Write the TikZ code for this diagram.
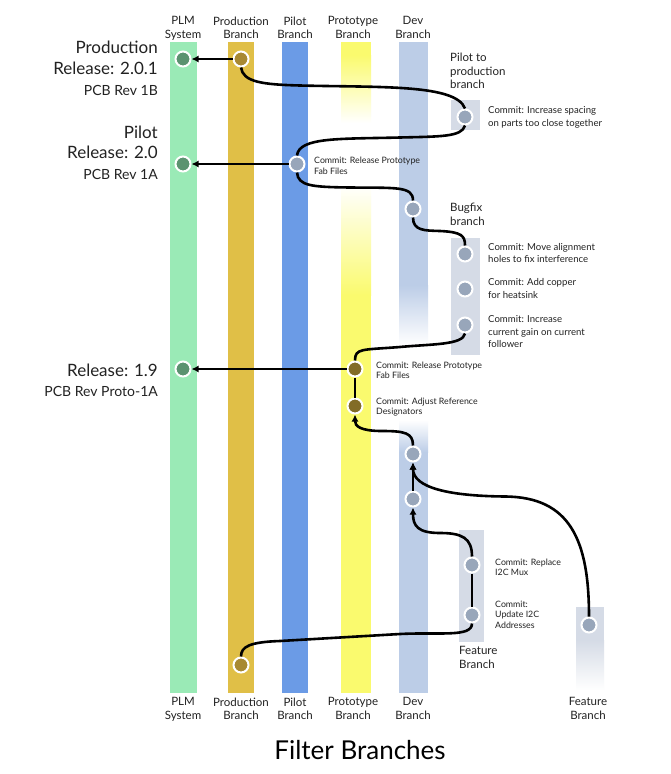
\documentclass[tikz,border=0pt]{standalone}
\usepackage{fontspec}
\setmainfont{Lato}
\usetikzlibrary{arrows.meta}
\definecolor{plmband}{HTML}{9AEAB6}
\definecolor{plmnode}{HTML}{5B9370}
\definecolor{prodband}{HTML}{E0BF47}
\definecolor{prodnode}{HTML}{A88932}
\definecolor{pilotband}{HTML}{6B9BE6}
\definecolor{protoband}{HTML}{FAFA6E}
\definecolor{protonode}{HTML}{826C27}
\definecolor{devband}{HTML}{BCCDE7}
\definecolor{graybox}{HTML}{D5DBE6}
\definecolor{graynode}{HTML}{98A6BA}
\definecolor{txt}{HTML}{222222}
\tikzset{
  conn/.style={line width=2.6pt, black},
  arr/.style={conn, -{Latex[length=7pt,width=7pt]}},
  commit/.style={circle, draw=white, line width=2pt, minimum size=15pt, inner sep=0pt},
  plmc/.style={commit, fill=plmnode},
  prodc/.style={commit, fill=prodnode},
  grayc/.style={commit, fill=graynode},
  protoc/.style={commit, fill=protonode},
  head/.style={font=\fontsize{11.5}{13.8}\selectfont, align=center, text=txt, anchor=north, inner sep=0pt},
  bigl/.style={font=\fontsize{17}{19}\selectfont, anchor=base east, text=txt, inner sep=0pt},
  smalll/.style={font=\fontsize{14}{15}\selectfont, anchor=base east, text=txt, inner sep=0pt},
  note/.style={font=\fontsize{9.6}{12.4}\selectfont, align=left, anchor=north west, text=txt, inner sep=0pt},
  tiny/.style={font=\fontsize{8.8}{10.8}\selectfont, align=left, anchor=north west, text=txt, inner sep=0pt},
  branchlbl/.style={font=\fontsize{11.5}{13.6}\selectfont, align=left, anchor=north west, text=txt, inner sep=0pt},
}
\begin{document}
\begin{tikzpicture}[x=1pt,y=-1pt]
\useasboundingbox (0,0) rectangle (670,774);
\fill[white] (0,0) rectangle (670,774);
% bands
\fill[plmband] (170,42) rectangle (197,693);
\fill[prodband] (228,42) rectangle (254,693);
\fill[pilotband] (282,42) rectangle (308,693);
\fill[protoband] (341,42) rectangle (371,55);
\shade[top color=protoband, bottom color=white] (341,55) rectangle (371,123);
\shade[top color=white, bottom color=protoband] (341,185) rectangle (371,295);
\fill[protoband] (341,295) rectangle (371,693);
\fill[devband] (399,42) rectangle (428,285);
\shade[top color=devband, bottom color=white] (399,285) rectangle (428,345);
\shade[top color=white, bottom color=devband] (399,420) rectangle (428,452);
\fill[devband] (399,452) rectangle (428,693);
% branch boxes
\fill[graybox] (451,100) rectangle (480,130);
\fill[graybox] (451,238) rectangle (480,355);
\fill[graybox] (459,530) rectangle (484,642);
\fill[graybox] (576,607) rectangle (604,640);
\shade[top color=graybox, bottom color=white] (576,640) rectangle (604,690);
% commit nodes
\node[plmc] (plm1) at (183,59) {};
\node[plmc] (plm2) at (183,164) {};
\node[plmc] (plm3) at (183,369) {};
\node[prodc] (prod1) at (241,59) {};
\node[prodc] (prod2) at (241,665) {};
\node[grayc] (pilot) at (297,164) {};
\node[grayc] (c1) at (465,117) {};
\node[grayc] (dev1) at (413,209) {};
\node[grayc] (b1) at (465,254) {};
\node[grayc] (b2) at (465,289) {};
\node[grayc] (b3) at (465,325) {};
\node[protoc] (pr1) at (355,369) {};
\node[protoc] (pr2) at (355,406) {};
\node[grayc] (dev2) at (413,454) {};
\node[grayc] (dev3) at (413,499) {};
\node[grayc] (f1) at (472,565) {};
\node[grayc] (f2) at (472,615) {};
\node[grayc] (ff) at (589,625) {};
% connectors
\draw[arr] (prod1) -- (plm1);
\draw[arr] (pilot) -- (plm2);
\draw[arr] (pr1) -- (plm3);
\draw[conn] (prod1.south) .. controls (243,82) and (262,84.5) .. (300,85.5) .. controls (380,87.5) and (456,84) .. (c1.north);
\draw[conn] (c1.south) .. controls (462,137) and (440,136.5) .. (400,137.5) .. controls (340,139) and (299,137) .. (pilot.north);
\draw[conn] (pilot.south) .. controls (298,186) and (312,187) .. (350,187.5) .. controls (396,188) and (413,186) .. (dev1.north);
\draw[conn] (dev1.south) .. controls (413,231) and (425,230.5) .. (440,231) .. controls (462,232) and (465,236) .. (b1.north);
\draw[conn] (b3.south) .. controls (463,345) and (432,344) .. (400,347) .. controls (362,350) and (355,348) .. (pr1.north);
\draw[conn] (pr1) -- (pr2);
\draw[arr] (dev2.north) .. controls (413,433) and (405,431) .. (382,431) .. controls (360,431) and (355,426) .. (pr2.south);
\draw[arr] (dev3) -- (dev2);
\draw[arr] (f1.north) .. controls (472,538) and (462,533) .. (440,533) .. controls (418,533) and (413,526) .. (dev3.south);
\draw[conn] (f1) -- (f2);
\draw[conn] (f2.south) .. controls +(0,14) and +(40,-2) .. (400,634) -- (280,641) .. controls +(-30,1) and +(0,-10) .. (prod2.north);
\draw[arr] (ff.north) .. controls (589,540) and (570,497) .. (505,496.5) .. controls (450,496) and (413,488) .. (dev2.south);
% headings
\node[head] (h1) at (183,16.5) {PLM\\System};
\node[head] (h2) at (241,16.5) {Production\\Branch};
\node[head] (h3) at (295,16.5) {Pilot\\Branch};
\node[head] (h4) at (353,16.5) {Prototype\\Branch};
\node[head] (h5) at (413,16.5) {Dev\\Branch};
\node[head] (g1) at (183,697.5) {PLM\\System};
\node[head] (g2) at (241,697.5) {Production\\Branch};
\node[head] (g3) at (295,697.5) {Pilot\\Branch};
\node[head] (g4) at (353,697.5) {Prototype\\Branch};
\node[head] (g5) at (413,697.5) {Dev\\Branch};
\node[head] (g6) at (588,697.5) {Feature\\Branch};
% release labels
\node[bigl] (r1a) at (158,53) {Production};
\node[bigl] (r1b) at (158,74) {Release: 2.0.1};
\node[smalll] (r1c) at (158,95) {PCB Rev 1B};
\node[bigl] (r2a) at (158,138) {Pilot};
\node[bigl] (r2b) at (158,158) {Release: 2.0};
\node[smalll] (r2c) at (158,179) {PCB Rev 1A};
\node[bigl] (r3b) at (158,376) {Release: 1.9};
\node[smalll] (r3c) at (158,396) {PCB Rev Proto-1A};
% branch labels
\node[branchlbl] (l1) at (450,53) {Pilot to\\production\\branch};
\node[branchlbl] (l2) at (450,203) {Bugfix\\branch};
\node[branchlbl] (l3) at (459,646) {Feature\\Branch};
% commit labels
\node[note] (t1) at (488,106.5) {Commit: Increase spacing\\on parts too close together};
\node[tiny] (t2) at (314,157) {Commit: Release Prototype\\Fab Files};
\node[note] (t3) at (488,243) {Commit: Move alignment\\holes to fix interference};
\node[note] (t4) at (488,278.5) {Commit: Add copper\\for heatsink};
\node[note] (t5) at (488,315.5) {Commit: Increase\\current gain on current\\follower};
\node[tiny] (t6) at (376,361.5) {Commit: Release Prototype\\Fab Files};
\node[tiny] (t7) at (376,397.5) {Commit: Adjust Reference\\Designators};
\node[tiny] (t8) at (495,558.5) {Commit: Replace\\I2C Mux};
\node[tiny] (t9) at (495,600.5) {Commit:\\Update I2C\\Addresses};
% title
\node[font=\fontsize{26}{30}\selectfont, anchor=base, text=black, inner sep=0pt] (title) at (360,759) {Filter Branches};
\end{tikzpicture}
\end{document}
